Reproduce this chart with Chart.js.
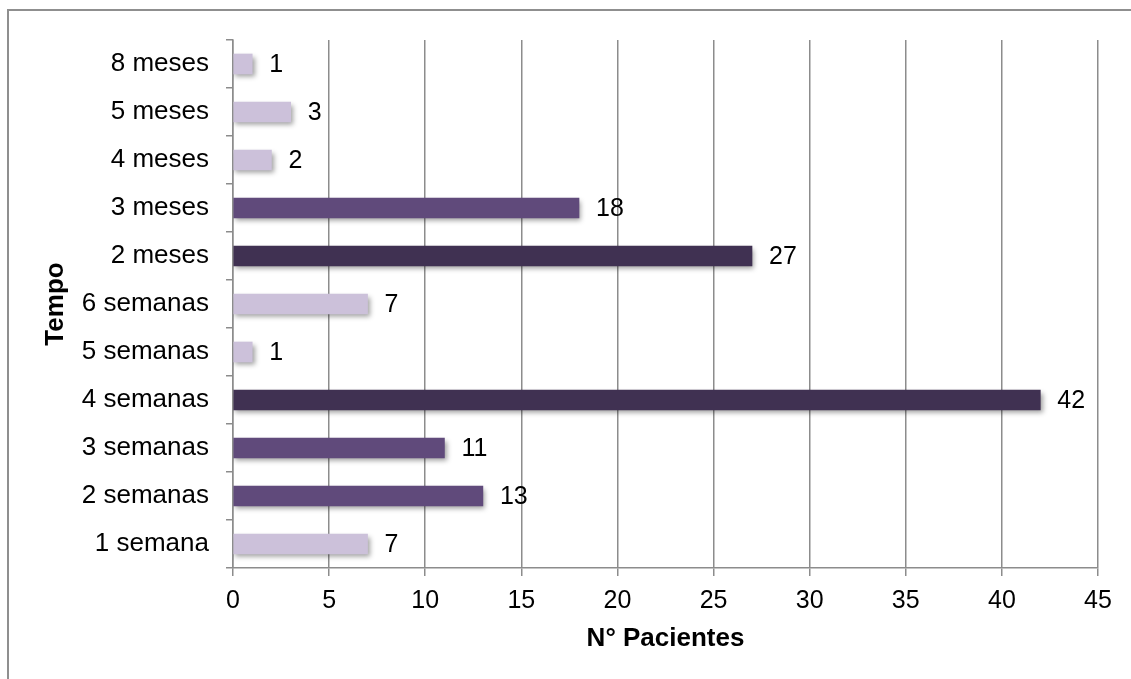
<!DOCTYPE html>
<html>
<head>
<meta charset="utf-8">
<script src="https://cdn.jsdelivr.net/npm/chart.js@4/dist/chart.umd.min.js"></script>
<style>
  html, body { margin: 0; padding: 0; background: #ffffff; }
  #wrap { width: 1131px; height: 679px; position: relative; }
</style>
</head>
<body>
<div id="wrap"><canvas id="chart" width="1131" height="679"></canvas></div>
<script>
// Time until return, bottom-to-top order of the category axis
const categories = ['1 semana', '2 semanas', '3 semanas', '4 semanas', '5 semanas', '6 semanas',
                    '2 meses', '3 meses', '4 meses', '5 meses', '8 meses'];
// Number of patients per interval
const patients = [7, 13, 11, 42, 1, 7, 27, 18, 2, 3, 1];
// Value axis ticks
const xTicks = [0, 5, 10, 15, 20, 25, 30, 35, 40, 45];

const FONT = '"Liberation Sans", Arial, Helvetica, sans-serif';
const GRID = '#8c8c8c';

// Three purple shades: the larger the count, the darker the bar
function barColor(v) {
  if (v >= 25) return '#403152';
  if (v >= 10) return '#604a7b';
  return '#ccc1da';
}

// White page with the grey frame around the chart
const framePlugin = {
  id: 'frame',
  beforeDraw(chart) {
    const ctx = chart.ctx;
    ctx.save();
    ctx.fillStyle = '#ffffff';
    ctx.fillRect(0, 0, chart.width, chart.height);
    ctx.strokeStyle = '#8f8f8f';
    ctx.lineWidth = 2;
    ctx.beginPath();
    ctx.moveTo(8, chart.height + 5);
    ctx.lineTo(8, 10);
    ctx.lineTo(chart.width + 5, 10);
    ctx.stroke();
    ctx.restore();
  }
};

// Soft drop shadow under the bars
const shadowPlugin = {
  id: 'barShadow',
  beforeDatasetsDraw(chart) {
    const ctx = chart.ctx;
    ctx.save();
    ctx.shadowColor = 'rgba(0,0,0,0.38)';
    ctx.shadowBlur = 5;
    ctx.shadowOffsetX = 2;
    ctx.shadowOffsetY = 3;
  },
  afterDatasetsDraw(chart) {
    chart.ctx.restore();
  }
};

// Value written just past the end of every bar
const valueLabels = {
  id: 'valueLabels',
  afterDatasetsDraw(chart) {
    const ctx = chart.ctx;
    ctx.save();
    ctx.fillStyle = '#000000';
    ctx.font = '25px ' + FONT;
    ctx.textAlign = 'left';
    ctx.textBaseline = 'middle';
    chart.data.datasets.forEach((ds, di) => {
      chart.getDatasetMeta(di).data.forEach((bar, i) => {
        ctx.fillText(String(ds.data[i]), bar.x + 17, bar.y + 1);
      });
    });
    ctx.restore();
  }
};

new Chart(document.getElementById('chart'), {
  type: 'bar',
  data: {
    labels: categories,
    datasets: [{
      data: patients,
      backgroundColor: ctx => barColor(ctx.raw),
      borderWidth: 0,
      barThickness: 20
    }]
  },
  options: {
    indexAxis: 'y',
    responsive: false,
    animation: false,
    layout: { padding: { left: 0, top: 40, right: 33, bottom: 0 } },
    plugins: {
      legend: { display: false },
      tooltip: { enabled: false }
    },
    scales: {
      x: {
        min: 0,
        max: 45,
        afterBuildTicks(scale) { scale.ticks = xTicks.map(v => ({ value: v })); },
        afterFit(scale) { scale.height = 111; },
        border: { display: true, color: GRID, width: 1.5 },
        grid: { color: GRID, lineWidth: 1.5, drawTicks: true, tickLength: 8, tickColor: GRID },
        ticks: { color: '#000000', padding: 10, font: { family: FONT, size: 25 } },
        title: {
          display: true,
          text: 'N° Pacientes',
          color: '#000000',
          font: { family: FONT, size: 26, weight: 'bold' },
          padding: { top: 0, bottom: 25 }
        }
      },
      y: {
        reverse: true,
        afterFit(scale) { scale.width = 233; },
        border: { display: true, color: GRID, width: 1.5 },
        grid: { display: true, drawOnChartArea: false, drawTicks: true, tickLength: 7, tickColor: GRID, lineWidth: 1.5, offset: true },
        ticks: { color: '#000000', padding: 17, font: { family: FONT, size: 26 } },
        title: {
          display: true,
          text: 'Tempo',
          color: '#000000',
          font: { family: FONT, size: 26, weight: 'bold' },
          padding: { top: 40, bottom: 0 }
        }
      }
    }
  },
  plugins: [framePlugin, shadowPlugin, valueLabels]
});
</script>
</body>
</html>
